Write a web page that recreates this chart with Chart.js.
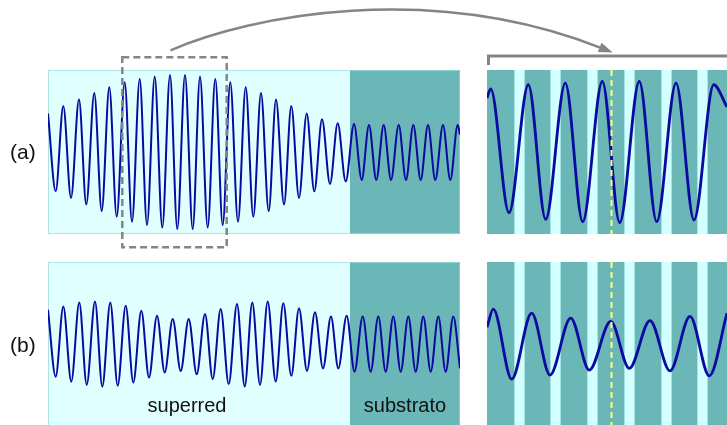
<!DOCTYPE html>
<html>
<head>
<meta charset="utf-8">
<script src="https://cdn.jsdelivr.net/npm/chart.js@4.4.1/dist/chart.umd.min.js"></script>
<style>
  html, body { margin: 0; padding: 0; background: #fff; overflow: hidden; }
  #stage { position: relative; width: 727px; height: 425px; overflow: hidden; }
  #stage canvas { position: absolute; }
  .tag { position: absolute; font: 21px "Liberation Sans", Arial, sans-serif; color: #111; line-height: 1; }
</style>
</head>
<body>
<div id="stage">
  <canvas id="waveA" width="412" height="164" style="left:48px;top:70px"></canvas>
  <canvas id="waveB" width="412" height="165" style="left:48px;top:262px"></canvas>
  <canvas id="zoomA" width="240" height="164" style="left:487px;top:70px"></canvas>
  <canvas id="zoomB" width="240" height="165" style="left:487px;top:262px"></canvas>
  <canvas id="marks" width="727" height="425" style="left:0;top:0;pointer-events:none"></canvas>
  <div class="tag" style="left:10px;top:141px">(a)</div>
  <div class="tag" style="left:10px;top:334px">(b)</div>
</div>
<script>
// ---- Structure (depth in arbitrary units) ----
const stackEnd = 41.2;          // full sample depth shown in the left panels
const interfaceDepth = 30.2;    // superred / substrato boundary
const regionNames = ['superred', 'substrato'];
const regionLabelDepth = [13.9, 35.7];

// Layers of the magnified window (light layers inside the teal host)
const layerStart = [2.7, 6.3, 10.0, 13.7, 17.4, 21.0];
const layerEnd   = [3.8, 7.4, 11.1, 14.8, 18.5, 22.1];
const zoomSpan = 24.0;
const focusDepth = 12.37;       // marked position in the magnified window
const zoomWindow = [7.43, 17.87];

// ---- Field amplitude, case (a): extrema along depth ----
const depthA = [0, 0.77, 1.53, 2.30, 3.10, 3.83, 4.63, 5.37, 6.13, 6.87, 7.67, 8.40, 9.17, 9.90,
  10.67, 11.43, 12.20, 12.93, 13.70, 14.47, 15.20, 15.97, 16.73, 17.47, 18.23, 19.00, 19.77, 20.53,
  21.30, 22.07, 22.80, 23.60, 24.33, 25.10, 25.87, 26.63, 27.40, 28.20, 28.97, 29.77, 30.60, 31.37,
  32.10, 32.83, 33.57, 34.30, 35.07, 35.80, 36.53, 37.27, 38.00, 38.73, 39.50, 40.23, 40.97, 41.20];
const fieldA = [0.47, -0.48, 0.56, -0.56, 0.64, -0.64, 0.72, -0.72, 0.79, -0.79, 0.85, -0.85, 0.89, -0.89,
  0.92, -0.92, 0.94, -0.94, 0.94, -0.94, 0.92, -0.92, 0.89, -0.89, 0.85, -0.85, 0.79, -0.79,
  0.72, -0.72, 0.64, -0.64, 0.56, -0.56, 0.47, -0.48, 0.40, -0.39, 0.35, -0.36, 0.34, -0.34,
  0.33, -0.34, 0.33, -0.34, 0.33, -0.34, 0.33, -0.34, 0.33, -0.34, 0.33, -0.34, 0.33, 0.21];

// ---- Field amplitude, case (b) ----
const depthB = [0, 0.77, 1.53, 2.33, 3.13, 3.87, 4.70, 5.43, 6.23, 6.97, 7.77, 8.53, 9.33, 10.10,
  10.90, 11.67, 12.47, 13.27, 14.07, 14.87, 15.70, 16.47, 17.27, 18.07, 18.90, 19.67, 20.43, 21.20,
  21.97, 22.77, 23.53, 24.33, 25.10, 25.90, 26.70, 27.50, 28.30, 29.03, 29.87, 30.65, 31.47, 32.27,
  33.03, 33.77, 34.53, 35.27, 36.03, 36.77, 37.53, 38.27, 39.03, 39.77, 40.53, 41.20];
const fieldB = [0.42, -0.39, 0.46, -0.45, 0.51, -0.49, 0.52, -0.51, 0.51, -0.50, 0.47, -0.46, 0.41, -0.40,
  0.35, -0.34, 0.31, -0.32, 0.31, -0.36, 0.37, -0.42, 0.43, -0.48, 0.49, -0.51, 0.51, -0.49,
  0.52, -0.45, 0.50, -0.38, 0.44, -0.32, 0.39, -0.29, 0.34, -0.29, 0.35, -0.33, 0.34, -0.33,
  0.34, -0.33, 0.34, -0.33, 0.34, -0.33, 0.34, -0.33, 0.34, -0.33, 0.34, -0.29];

// ---- Magnified window, case (a) ----
const zDepthA = [0, 0.37, 2.20, 4.13, 5.87, 7.83, 9.57, 11.53, 13.27, 15.23, 16.97, 18.90, 20.70, 22.67, 24.0];
const zFieldA = [0.66, 0.77, -0.74, 0.82, -0.82, 0.84, -0.85, 0.86, -0.86, 0.86, -0.85, 0.84, -0.83, 0.82, 0.55];

// ---- Magnified window, case (b) ----
const zDepthB = [0, 0.63, 2.47, 4.47, 6.30, 8.37, 10.23, 12.37, 14.23, 16.30, 18.30, 20.30, 22.23, 24.0];
const zFieldB = [0.21, 0.43, -0.42, 0.38, -0.37, 0.32, -0.31, 0.28, -0.29, 0.29, -0.32, 0.34, -0.38, 0.38];

// ---- Styles ----
const LIGHT = '#e0ffff';
const LAYER = '#d2ffff';
const HOST = '#6bb6b6';
const WAVE = '#0a0aa0';
const GREY = '#858585';
const FONT = '"Liberation Sans", Arial, Helvetica, sans-serif';

const pts = (xs, ys) => xs.map((x, i) => ({ x: x, y: ys[i] }));

// Backdrop for the full-depth panels: superred region, then substrate
const stackBackdrop = {
  id: 'stackBackdrop',
  beforeDatasetsDraw(chart) {
    const { ctx, chartArea: a, scales: { x } } = chart;
    const xi = x.getPixelForValue(interfaceDepth);
    ctx.save();
    ctx.fillStyle = LIGHT;
    ctx.fillRect(a.left, a.top, xi - a.left, a.bottom - a.top);
    ctx.fillStyle = HOST;
    ctx.fillRect(xi, a.top, a.right - xi, a.bottom - a.top);
    ctx.strokeStyle = 'rgba(150,215,215,0.7)';
    ctx.lineWidth = 1;
    ctx.strokeRect(a.left + 0.5, a.top + 0.5, a.right - a.left - 1, a.bottom - a.top - 1);
    ctx.restore();
  }
};

// Backdrop for magnified panels: teal host with light layers, plus the focus line
const layerBackdrop = {
  id: 'layerBackdrop',
  beforeDatasetsDraw(chart) {
    const { ctx, chartArea: a, scales: { x } } = chart;
    ctx.save();
    ctx.fillStyle = HOST;
    ctx.fillRect(a.left, a.top, a.right - a.left, a.bottom - a.top);
    layerStart.forEach((s, i) => {
      const x0 = x.getPixelForValue(s), x1 = x.getPixelForValue(layerEnd[i]);
      ctx.fillStyle = LAYER;
      ctx.fillRect(x0, a.top, x1 - x0, a.bottom - a.top);
      ctx.fillStyle = 'rgba(160,225,225,0.9)';
      ctx.fillRect(x0, a.top, 1, a.bottom - a.top);
      ctx.fillRect(x1 - 1, a.top, 1, a.bottom - a.top);
    });
    ctx.restore();
  },
  afterDatasetsDraw(chart) {
    const { ctx, chartArea: a, scales: { x } } = chart;
    const xf = Math.round(x.getPixelForValue(focusDepth)) + 0.5;
    ctx.save();
    ctx.strokeStyle = '#ffff78';
    ctx.lineWidth = 2;
    ctx.setLineDash([6, 4]);
    ctx.beginPath();
    ctx.moveTo(xf, a.top);
    ctx.lineTo(xf, a.bottom);
    ctx.stroke();
    ctx.restore();
  }
};

// Region names along the bottom of panel (b)
const regionText = {
  id: 'regionText',
  afterDatasetsDraw(chart) {
    const { ctx, scales: { x, y } } = chart;
    ctx.save();
    ctx.fillStyle = '#111';
    ctx.font = '20px ' + FONT;
    ctx.textAlign = 'center';
    ctx.textBaseline = 'alphabetic';
    regionNames.forEach((n, i) => ctx.fillText(n, x.getPixelForValue(regionLabelDepth[i]), y.getPixelForValue(-0.82)));
    ctx.restore();
  }
};

function waveChart(id, xs, ys, xmax, width, plugins) {
  return new Chart(document.getElementById(id), {
    type: 'line',
    data: { datasets: [{
      data: pts(xs, ys),
      borderColor: WAVE,
      borderWidth: width,
      pointRadius: 0,
      fill: false,
      cubicInterpolationMode: 'monotone'
    }] },
    options: {
      responsive: false,
      animation: false,
      events: [],
      layout: { padding: 0 },
      plugins: { legend: { display: false }, tooltip: { enabled: false } },
      scales: {
        x: { type: 'linear', min: 0, max: xmax, display: false },
        y: { type: 'linear', min: -1, max: 1, display: false }
      }
    },
    plugins: plugins
  });
}

const chartA = waveChart('waveA', depthA, fieldA, stackEnd, 2, [stackBackdrop]);
const chartB = waveChart('waveB', depthB, fieldB, stackEnd, 2, [stackBackdrop, regionText]);
const chartZA = waveChart('zoomA', zDepthA, zFieldA, zoomSpan, 2.8, [layerBackdrop]);
const chartZB = waveChart('zoomB', zDepthB, zFieldB, zoomSpan, 2.8, [layerBackdrop]);

// ---- Connecting marks: magnification window, bracket and arrow ----
(function drawMarks() {
  const cv = document.getElementById('marks');
  const ctx = cv.getContext('2d');
  const elA = document.getElementById('waveA');
  const elZ = document.getElementById('zoomA');
  const ox = elA.offsetLeft, oy = elA.offsetTop;
  const zx = elZ.offsetLeft, zy = elZ.offsetTop;

  const rx0 = ox + chartA.scales.x.getPixelForValue(zoomWindow[0]);
  const rx1 = ox + chartA.scales.x.getPixelForValue(zoomWindow[1]);
  const ry0 = oy + chartA.scales.y.getPixelForValue(1.155);
  const ry1 = oy + chartA.scales.y.getPixelForValue(-1.162);

  ctx.strokeStyle = GREY;
  ctx.fillStyle = GREY;

  // dashed magnification window
  ctx.save();
  ctx.lineWidth = 2.5;
  ctx.setLineDash([7, 4]);
  ctx.strokeRect(rx0, ry0, rx1 - rx0, ry1 - ry0);
  ctx.restore();

  // bracket over the magnified panel
  const by = zy - 14;
  ctx.save();
  ctx.lineWidth = 3;
  ctx.beginPath();
  ctx.moveTo(zx + 1.5, zy - 5);
  ctx.lineTo(zx + 1.5, by);
  ctx.lineTo(cv.width + 5, by);
  ctx.stroke();
  ctx.restore();

  // curved arrow from the window to the bracket
  const sx = (rx0 + rx1) / 2 - 4, sy = ry0 - 7;
  const ex = zx + chartZA.scales.x.getPixelForValue(focusDepth) + 2, ey = by - 3.5;
  const c1 = [sx + 80, sy - 35], c2 = [ex - 182, ey - 72];
  const dx = ex - c2[0], dy = ey - c2[1], L = Math.hypot(dx, dy);
  const ux = dx / L, uy = dy / L;
  const head = 14, half = 5;
  const bx = ex - ux * head, byy = ey - uy * head;
  ctx.save();
  ctx.lineWidth = 2.5;
  ctx.beginPath();
  ctx.moveTo(sx, sy);
  ctx.bezierCurveTo(c1[0], c1[1], c2[0], c2[1], bx + ux * 2, byy + uy * 2);
  ctx.stroke();
  ctx.beginPath();
  ctx.moveTo(ex, ey);
  ctx.lineTo(bx - uy * half, byy + ux * half);
  ctx.lineTo(bx + uy * half, byy - ux * half);
  ctx.closePath();
  ctx.fill();
  ctx.restore();
})();
</script>
</body>
</html>
